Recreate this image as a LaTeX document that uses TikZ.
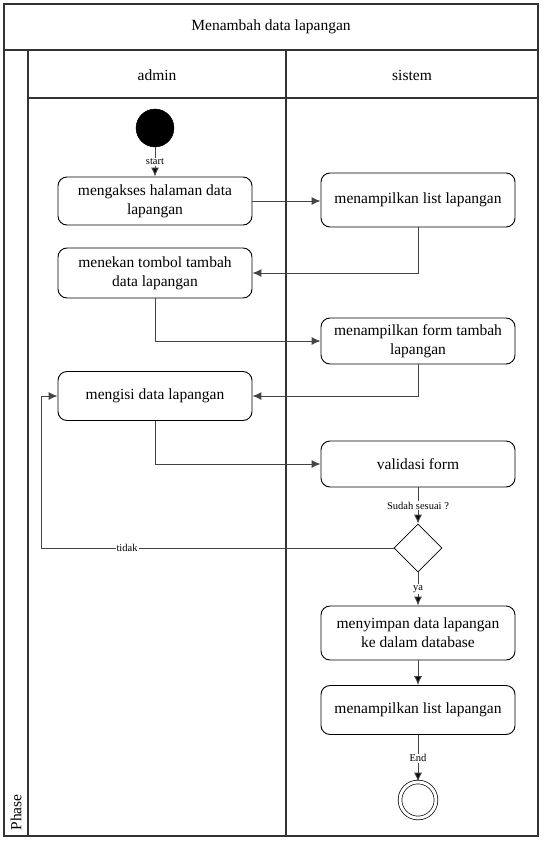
\documentclass[tikz,border=0pt]{standalone}
\usepackage{fontspec}
\setmainfont{Liberation Serif}
\usetikzlibrary{arrows.meta,shapes.geometric,calc}
\definecolor{dg}{HTML}{333333}
\definecolor{lg}{HTML}{444444}
\tikzset{
    act/.style =    {rectangle,
                    rounded corners=9pt,
                    fill=white,
                    draw=black,
                    text=black,
                    line width=0.9pt,
                    align=center,
                    inner sep=0pt,
                    minimum width=194pt,
                    font=\fontsize{15.5}{19}\selectfont},
    initial/.style = {circle,
                    fill=black,
                    draw=black,
                    minimum size=38pt,
                    inner sep=0pt},
    final/.style =  {circle,
                    fill=white,
                    draw=black,
                    line width=0.7pt,
                    double,
                    double distance=3pt,
                    minimum size=36pt,
                    inner sep=0pt},
    decision/.style = {diamond,
                    fill=white,
                    draw=black,
                    line width=0.7pt,
                    aspect=1,
                    minimum width=48pt,
                    minimum height=48pt,
                    inner sep=0pt},
    lane/.style =   {draw=dg,
                    line width=1.6pt},
    head/.style =   {text=black,
                    font=\fontsize{15.5}{19}\selectfont},
    tag/.style =    {fill=white,
                    text=black,
                    inner sep=1pt,
                    font=\fontsize{10.5}{12}\selectfont},
    flow/.style =   {->,
                    draw=lg,
                    line width=1pt},
    >={Latex[length=9pt,width=8pt]}}
\begin{document}
\begin{tikzpicture}[x=1pt,y=-1pt]
    \useasboundingbox (0,0) rectangle (543,845);
    % swimlanes
    \draw[lane] (4,4) rectangle (538,836);
    \draw[lane] (4,50) -- (538,50);
    \draw[lane] (28,50) -- (28,836);
    \draw[lane] (28,98) -- (538,98);
    \draw[lane] (286,50) -- (286,836);
    \node[head]         (title) at (271,27)     {Menambah data lapangan};
    \node[head]         (admin) at (157,75)     {admin};
    \node[head]         (sistem) at (412,75)    {sistem};
    \node[head,rotate=90,anchor=west] (phase) at (16,834) {Phase};
    % activities
    \node[initial]      (start) at (155,128)    {};
    \node[act,minimum height=48pt] (akses) at (155,201)  {mengakses halaman data\\lapangan};
    \node[act,minimum height=54pt] (list1) at (418,200)  {menampilkan list lapangan};
    \node[act,minimum height=50pt] (tekan) at (155,273)  {menekan tombol tambah\\data lapangan};
    \node[act,minimum height=46pt] (form) at (418,341)   {menampilkan form tambah\\lapangan};
    \node[act,minimum height=49pt] (isi) at (155,396)    {mengisi data lapangan};
    \node[act,minimum height=46pt] (valid) at (418,464)  {validasi form};
    \node[decision]     (cek) at (418,548)      {};
    \node[act,minimum height=54pt] (simpan) at (418,633) {menyimpan data lapangan\\ke dalam database};
    \node[act,minimum height=49pt] (list2) at (418,710)  {menampilkan list lapangan};
    \node[final]        (end) at (418,800)      {};
    \coordinate         (back) at (41,548);
    % flows
    \path [flow]    (start) edge []     node [tag] {start} (akses)
                    (valid) edge []     node [tag] {Sudah sesuai ?} (cek)
                    (cek) edge []       node [tag] {ya} (simpan)
                    (simpan) edge []    node [] {} (list2)
                    (list2) edge []     node [tag] {End} (end);
    \draw[flow] (akses.east) -- (akses.east -| list1.west);
    \draw[flow] (list1.south) |- (tekan.east);
    \draw[flow] (tekan.south) |- (form.west);
    \draw[flow] (form.south) |- (isi.east);
    \draw[flow] (isi.south) |- (valid.west);
    \draw[flow] (cek.west) -- node[tag,pos=0.756] {tidak} (back) |- (isi.west);
\end{tikzpicture}
\end{document}
